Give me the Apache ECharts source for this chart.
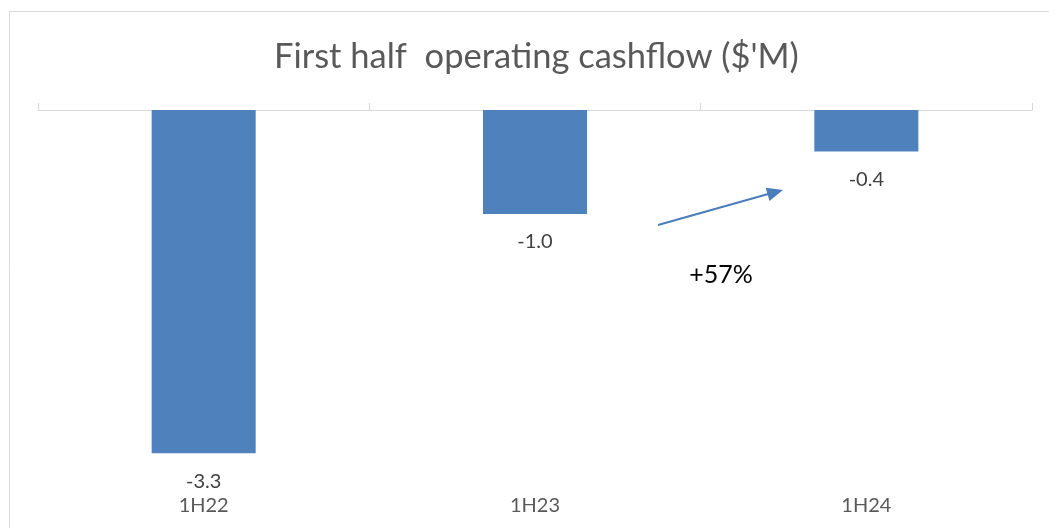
<!DOCTYPE html>
<html>
<head>
<meta charset="utf-8">
<script src="https://cdn.jsdelivr.net/npm/echarts@6/dist/echarts.min.js"></script>
<style>
  html, body { margin: 0; padding: 0; background: #fff; }
  #chart { width: 1049px; height: 528px; }
</style>
</head>
<body>
<div id="chart"></div>
<script>
const categories = ['1H22', '1H23', '1H24']
const cashflow = [-3.3, -1.0, -0.4]
const changeLabel = '+57%'

const chart = echarts.init(document.getElementById('chart'))
const font = 'Lato, "Liberation Sans", sans-serif'

chart.setOption({
  backgroundColor: '#fff',
  animation: false,
  title: {
    text: "First half  operating cashflow ($'M)",
    left: 274,
    top: 39,
    padding: 0,
    textStyle: { color: '#595959', fontSize: 34.5, fontWeight: 'normal', fontFamily: font },
  },
  grid: { left: 38, right: 17, top: 110, bottom: 54 },
  xAxis: [
    {
      type: 'category',
      data: categories,
      position: 'top',
      axisLine: { onZero: false, lineStyle: { color: '#d9d9d9', width: 1 } },
      axisTick: { show: true, alignWithLabel: false, length: 7, lineStyle: { color: '#d9d9d9' } },
      axisLabel: { show: false },
    },
    {
      type: 'category',
      data: categories,
      position: 'bottom',
      axisLine: { show: false },
      axisTick: { show: false },
      axisLabel: { color: '#595959', fontSize: 20, fontFamily: font, margin: 22 },
    },
  ],
  yAxis: {
    type: 'value',
    min: -3.5,
    max: 0,
    show: false,
    splitLine: { show: false },
  },
  series: [
    {
      type: 'bar',
      data: cashflow,
      barWidth: '31.4%',
      itemStyle: { color: '#4f81bd' },
      label: {
        show: true,
        position: 'bottom',
        distance: 18,
        color: '#404040',
        fontSize: 20,
        fontFamily: font,
        formatter: (p) => p.value.toFixed(1),
      },
    },
  ],
  graphic: [
    {
      type: 'rect',
      shape: { x: 9.5, y: 11.5, width: 1200, height: 700 },
      style: { fill: 'none', stroke: '#d9d9d9', lineWidth: 1 },
      silent: true,
    },
    {
      type: 'line',
      shape: { x1: 658, y1: 225, x2: 770, y2: 193.5 },
      style: { stroke: '#4a7ebb', lineWidth: 2 },
    },
    {
      type: 'polygon',
      shape: { points: [[783, 190], [769.5, 201.1], [765.7, 187.7]] },
      style: { fill: '#4a7ebb' },
    },
    {
      type: 'text',
      x: 721,
      y: 275,
      style: {
        text: changeLabel,
        fill: '#000',
        fontSize: 25,
        fontFamily: font,
        align: 'center',
        verticalAlign: 'middle',
      },
    },
  ],
})
</script>
</body>
</html>
